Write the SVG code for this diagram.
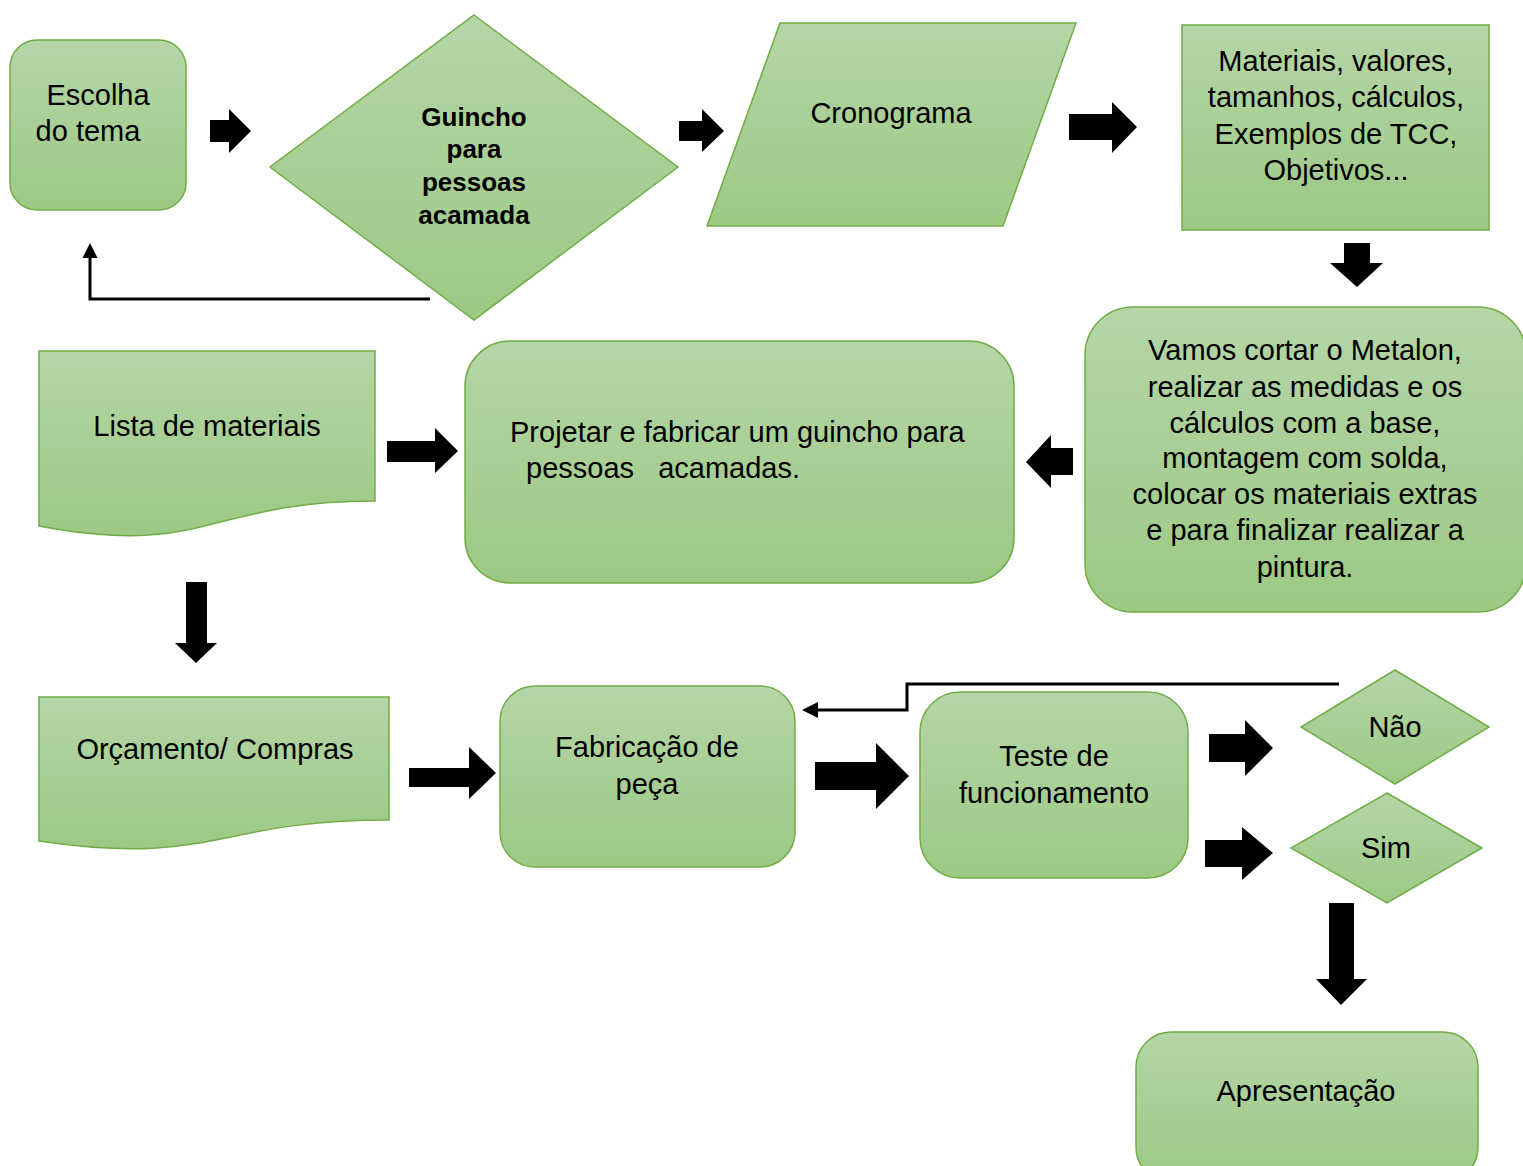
<svg xmlns="http://www.w3.org/2000/svg" width="1523" height="1166" viewBox="0 0 1523 1166">
<defs>
<linearGradient id="g" x1="0" y1="0" x2="0" y2="1">
<stop offset="0" stop-color="#b5d5a7"/>
<stop offset="1" stop-color="#9cc984"/>
</linearGradient>
</defs>
<style>
.n{fill:url(#g);stroke:#70ad47;stroke-width:1.5}
.t{font-family:"Liberation Sans",Arial,sans-serif;font-size:29px;fill:#000;text-anchor:middle}
.b{font-family:"Liberation Sans",Arial,sans-serif;font-size:26px;font-weight:bold;fill:#000;text-anchor:middle}
.ba{fill:#000}
.ln{fill:none;stroke:#000;stroke-width:3}
</style>
<rect width="1523" height="1166" fill="#fff"/>
<g id="escolha">
<rect class="n" x="10" y="40" width="176" height="170" rx="27"/>
<text class="t" x="98" y="105">Escolha</text>
<text class="t" x="88" y="141">do tema</text>
</g>
<g id="guincho">
<polygon class="n" points="474,15 678,167 474,320 270,167"/>
<text class="b" x="474" y="126">Guincho</text>
<text class="b" x="474" y="158">para</text>
<text class="b" x="474" y="191">pessoas</text>
<text class="b" x="474" y="224">acamada</text>
</g>
<g id="cronograma">
<polygon class="n" points="780,23 1076,23 1003,226 707,226"/>
<text class="t" x="891" y="123">Cronograma</text>
</g>
<g id="materiais">
<rect class="n" x="1182" y="25" width="307" height="205"/>
<text class="t" x="1336" y="71">Materiais, valores,</text>
<text class="t" x="1336" y="107">tamanhos, cálculos,</text>
<text class="t" x="1336" y="144">Exemplos de TCC,</text>
<text class="t" x="1336" y="180">Objetivos...</text>
</g>
<g id="vamos">
<rect class="n" x="1085" y="307" width="441" height="305" rx="48"/>
<text class="t" x="1305" y="360">Vamos cortar o Metalon,</text>
<text class="t" x="1305" y="397">realizar as medidas e os</text>
<text class="t" x="1305" y="433">cálculos com a base,</text>
<text class="t" x="1305" y="468">montagem com solda,</text>
<text class="t" x="1305" y="504">colocar os materiais extras</text>
<text class="t" x="1305" y="540">e para finalizar realizar a</text>
<text class="t" x="1305" y="577">pintura.</text>
</g>
<g id="projetar">
<rect class="n" x="465" y="341" width="549" height="242" rx="45"/>
<text class="t" x="510" y="442" style="text-anchor:start">Projetar e fabricar um guincho para</text>
<text class="t" x="526" y="478" style="text-anchor:start;white-space:pre" xml:space="preserve">pessoas   acamadas.</text>
</g>
<g id="lista">
<path class="n" d="M39,351 H375 V501 C207,501 207,558 39,526 Z"/>
<text class="t" x="207" y="436">Lista de materiais</text>
</g>
<g id="orcamento">
<path class="n" d="M39,697 H389 V820 C214,820 214,867 39,841 Z"/>
<text class="t" x="215" y="759">Orçamento/ Compras</text>
</g>
<g id="fabricacao">
<rect class="n" x="500" y="686" width="295" height="181" rx="35"/>
<text class="t" x="647" y="757">Fabricação de</text>
<text class="t" x="647" y="794">peça</text>
</g>
<g id="teste">
<rect class="n" x="920" y="692" width="268" height="186" rx="40"/>
<text class="t" x="1054" y="766">Teste de</text>
<text class="t" x="1054" y="803">funcionamento</text>
</g>
<g id="nao">
<polygon class="n" points="1395,670 1489,727 1395,784 1301,727"/>
<text class="t" x="1395" y="737">Não</text>
</g>
<g id="sim">
<polygon class="n" points="1387,793 1482,848 1387,903 1291,848"/>
<text class="t" x="1386" y="858">Sim</text>
</g>
<g id="apresentacao">
<rect class="n" x="1136" y="1032" width="342" height="150" rx="35"/>
<text class="t" x="1306" y="1101">Apresentação</text>
</g>
<g id="connectors">
<path class="ba" d="M210,120 H229 V109 L251,131 L229,153 V142 H210 Z"/>
<path class="ba" d="M679,121 H702 V109 L724,131 L702,152 V141 H679 Z"/>
<path class="ba" d="M1069,114 H1112 V102 L1137,127 L1112,153 V140 H1069 Z"/>
<path class="ba" d="M1344,243 H1370 V263 H1383 L1357,287 L1330,263 H1344 Z"/>
<path class="ba" d="M1073,448 H1051 V435 L1026,462 L1051,488 V475 H1073 Z"/>
<path class="ba" d="M387,441 H435 V428 L458,451 L435,473 V462 H387 Z"/>
<path class="ba" d="M186,582 H207 V643 H217 L196,663 L175,643 H186 Z"/>
<path class="ba" d="M409,768 H469 V747 L496,773 L469,799 V787 H409 Z"/>
<path class="ba" d="M815,762 H876 V743 L909,776 L876,809 V790 H815 Z"/>
<path class="ba" d="M1209,734 H1245 V720 L1273,748 L1245,776 V762 H1209 Z"/>
<path class="ba" d="M1205,840 H1242 V827 L1273,853 L1242,880 V867 H1205 Z"/>
<path class="ba" d="M1329,903 H1354 V979 H1367 L1341,1005 L1316,979 H1329 Z"/>
<path class="ln" d="M430,299 H90 V257"/>
<polygon class="ba" points="90,243 97.5,258 82.5,258"/>
<path class="ln" d="M1339,684 H907 V710 H817"/>
<polygon class="ba" points="802,710 818,702 818,718"/>
</g>
</svg>
